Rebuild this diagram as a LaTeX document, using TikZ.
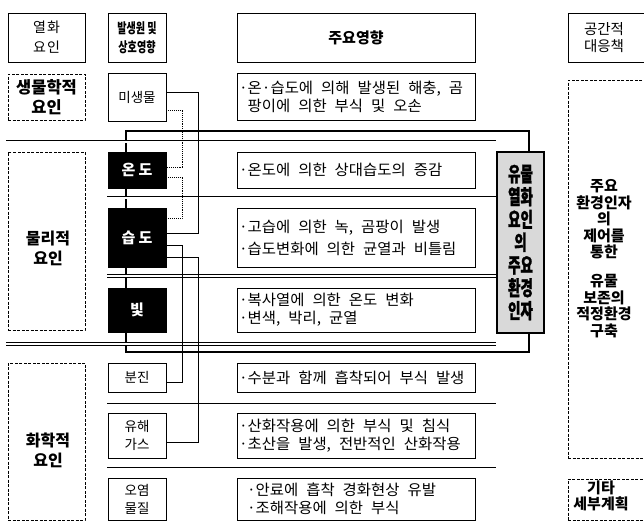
\documentclass[tikz,border=0pt]{standalone}
\usepackage{fontspec}
\setmainfont{Noto Sans CJK KR}
\newfontfamily\krcond{Noto Sans CJK KR}[FakeStretch=0.72]
\newfontfamily\krkey{Noto Sans CJK KR}[FakeStretch=0.66, FakeBold=1.2]
\newfontfamily\kreff{Noto Sans CJK KR}[FakeStretch=1.03]
\newcommand\gap{\kern 8pt\relax}
\newcommand\effA{\kreff\fontsize{15}{18}\selectfont}
\newcommand\effB{\kreff\fontsize{15}{22}\selectfont}
\begin{document}
\begin{tikzpicture}[x=1pt,y=-1pt,
  hdr/.style={draw, line width=0.8pt, align=center, inner sep=0pt, minimum height=49pt},
  grp/.style={draw, dash pattern=on 3pt off 1.5pt, line width=0.6pt, align=center, inner sep=0pt, minimum width=77pt},
  src/.style={draw, line width=0.8pt, align=center, inner sep=0pt, minimum width=58pt, fill=white, font=\fontsize{13.5}{18}\selectfont},
  dark/.style={src, fill=black, text=white, font=\fontsize{15}{18}\selectfont\bfseries\addfontfeatures{LetterSpace=20}},
  eff/.style={draw, line width=0.8pt, align=left, text width=234pt, inner xsep=2pt, inner ysep=0pt, minimum width=238pt, fill=white, font=\effA},
  sep/.style={double, double distance=2pt, line width=0.7pt},
  frame/.style={line width=2.6pt},
  link/.style={line width=0.9pt},
  dlink/.style={line width=0.9pt, densely dotted},
  bold/.style={font=\fontsize{15}{16.5}\selectfont\bfseries, align=center, inner sep=0pt}]
\useasboundingbox (0,0) rectangle (644,523);

% thick frame
\coordinate (fTL) at (126,131);
\coordinate (fBR) at (529,352);
\draw[frame] (fTL) rectangle (fBR);

% key box
\node[draw, line width=1.4pt, fill=gray!30, minimum width=47pt, minimum height=181pt, inner sep=0pt, align=center,
      font=\krkey\fontsize{20.5}{22.8}\selectfont\bfseries] (key) at (520.5,242.5)
      {유물\\열화\\요인\\의\\주요\\환경\\인자};

% separators
\draw[sep] (6,141.5) -- (key.west |- 0,141.5);
\draw[sep] (107,197.5) -- (key.west |- 0,197.5);
\draw[sep] (107,276) -- (key.west |- 0,276);
\draw[sep] (6,344) -- (key.west |- 0,344);
\draw[sep] (107,404.5) -- (key.west |- 0,404.5);
\draw[sep] (107,468.5) -- (key.west |- 0,468.5);

% headers
\node[hdr, minimum width=77pt, font=\fontsize{14}{20}\selectfont\addfontfeatures{LetterSpace=8}] (h1) at (46.5,37.5) {열화\\요인};
\node[hdr, minimum width=58pt, font=\krcond\fontsize{14}{19}\selectfont\bfseries] (h2) at (137,37.5) {발생원 및\\상호영향};
\node[hdr, minimum width=238pt, font=\fontsize{15}{19}\selectfont\bfseries] (h3) at (356,37.5) {주요영향};
\node[hdr, minimum width=82pt] (h4) at (609,37.5) {};
\node[align=center, inner sep=0pt, font=\fontsize{14.5}{17}\selectfont] (h4t) at (604,37.5) {공간적\\대응책};

% column 1 groups
\node[grp, minimum height=46pt, font=\fontsize{16.5}{20}\selectfont\bfseries] (g1) at (46.5,97) {생물학적\\요인};
\node[grp, minimum height=178pt] (g2) at (46.5,241) {};
\node[bold, font=\fontsize{16}{20}\selectfont\bfseries] (g2t) at (48,248) {물리적\\요인};
\node[grp, minimum height=157pt] (g3) at (46.5,441.5) {};
\node[bold, font=\fontsize{16}{20}\selectfont\bfseries] (g3t) at (48,450) {화학적\\요인};

% column 2 sources
\node[src, minimum height=48pt] (s1) at (137,97) {미생물};
\node[dark, minimum height=36pt] (s2) at (137,170) {온도};
\node[dark, minimum height=59pt] (s3) at (137,237.5) {습도};
\node[dark, minimum height=44pt] (s4) at (137,310) {빛};
\node[src, minimum height=29pt] (s5) at (137,377.5) {분진};
\node[src, minimum height=45pt] (s6) at (137,435.5) {유해\\가스};
\node[src, minimum height=42pt] (s7) at (137,499) {오염\\물질};

% column 3 effects
\node[eff, minimum height=47pt] (e1) at (356,97) {·온·습도에\gap 의해\gap 발생된\gap 해충,\gap 곰\\\phantom{·}팡이에\gap 의한\gap 부식\gap 및\gap 오손};
\node[eff, minimum height=36pt] (e2) at (356,170) {·온도에\gap 의한\gap 상대습도의\gap 증감};
\node[eff, minimum height=59pt, font=\effB] (e3) at (356,237.5) {·고습에\gap 의한\gap 녹,\gap 곰팡이\gap 발생\\·습도변화에\gap 의한\gap 균열과\gap 비틀림};
\node[eff, minimum height=44pt] (e4) at (356,310) {·복사열에\gap 의한\gap 온도\gap 변화\\·변색,\gap 박리,\gap 균열};
\node[eff, minimum height=29pt] (e5) at (356,377.5) {·수분과\gap 함께\gap 흡착되어\gap 부식\gap 발생};
\node[eff, minimum height=45pt] (e6) at (356,435.5) {·산화작용에\gap 의한\gap 부식\gap 및\gap 침식\\·초산을\gap 발생,\gap 전반적인\gap 산화작용};
\node[eff, minimum height=42pt] (e7) at (356,499) {\hspace*{8pt}·안료에\gap 흡착\gap 경화현상\gap 유발\\\hspace*{8pt}·조해작용에\gap 의한\gap 부식};

% column 4
\node[grp, minimum width=82pt, minimum height=378pt] (c1) at (609,269) {};
\node[bold] (c1t) at (604,258.5) {주요\\환경인자\\의\\제어를\\통한\\[12.5pt]유물\\보존의\\적정환경\\구축};
\node[grp, minimum width=82pt, minimum height=41pt] (c2) at (609,499.5) {};
\node[bold] (c2t) at (601,496) {기타\\세부계획};

% connectors
\draw[link] (s1.east |- 0,92) -- ++(32,0) |- (s3.east |- 0,233);
\draw[dlink] (s1.east |- 0,110) -- ++(16,0) |- (s2.east |- 0,167);
\draw[dlink] (s2.east |- 0,177) -- ++(16,0) |- (s3.east |- 0,218);
\draw[link] (s3.east |- 0,245) -- ++(16,0) |- (s5.east |- 0,382);
\draw[link] (s3.east |- 0,257) -- ++(32,0) |- (s6.east |- 0,442);
\end{tikzpicture}
\end{document}
